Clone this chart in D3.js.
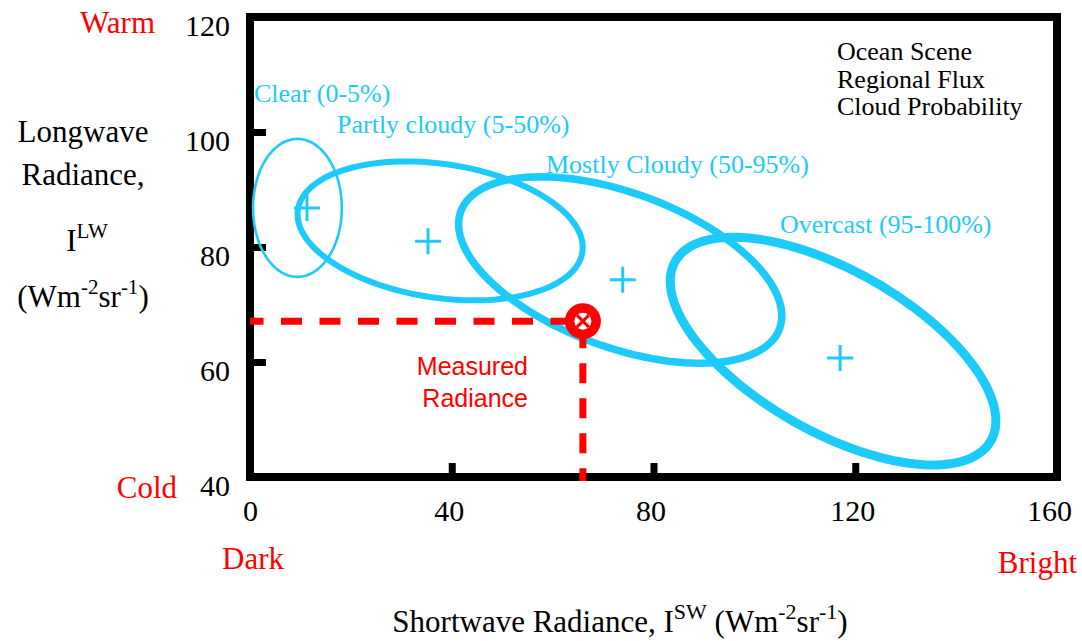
<!DOCTYPE html>
<html>
<head>
<meta charset="utf-8">
<script src="https://cdn.jsdelivr.net/npm/d3@7"></script>
<style>
body{margin:0;background:#fff;}
</style>
</head>
<body>
<svg></svg>
<script>
// cloud classes
var classNames = ["Clear (0-5%)","Partly cloudy (5-50%)","Mostly Cloudy (50-95%)","Overcast (95-100%)"];
// centre of each class ellipse (SW, LW)
var centreSW = [9.4, 37.7, 73.4, 115.6];
var centreLW = [86.8, 82.8, 76.0, 61.9];
// the two semi-diameters of each ellipse, in radiance units
var axisASW = [8.8, 28.2, 31.6, 31.3];
var axisALW = [0, -3.7, -10.2, -15.6];
var axisBSW = [0, -2.0, -5.3, -7.9];
var axisBLW = [-12.0, -11.5, -12.6, -12.2];
// class means (the + marks)
var meanSW = [11.3, 35.3, 73.9, 117.0];
var meanLW = [86.8, 81.0, 74.3, 60.7];
// measured radiance
var measuredSW = 66.0;
var measuredLW = 67.1;

var xTicks = [0,40,80,120,160];
var yTicks = [40,60,80,100,120];
var legendLines = ["Ocean Scene","Regional Flux","Cloud Probability"];

graph();

function graph(){
  var width = 1082;
  var height = 641;
  var blue = "#1ccbf9";
  var red = "#ff0000";
  var serif = "'Liberation Serif','Times New Roman',serif";
  var sans = "'Liberation Sans',Arial,sans-serif";
  var margins = {left:250,right:25,top:17,bot:164};

  var svg = d3.select("svg")
              .attr("width",width)
              .attr("height",height);

  var xScale = d3.scaleLinear()
                 .domain([0,160])
                 .range([margins.left,width-margins.right]);
  var yScale = d3.scaleLinear()
                 .domain([40,120])
                 .range([height-margins.bot,margins.top]);

  //axes, ticks point inwards
  var xAxis = d3.axisBottom(xScale).tickValues(xTicks).tickSize(-14).tickSizeOuter(0).tickPadding(23);
  var yAxis = d3.axisLeft(yScale).tickValues(yTicks).tickSize(-16).tickSizeOuter(0).tickPadding(20);

  var gx = svg.append("g")
     .attr("transform","translate(0,"+yScale(40)+")")
     .call(xAxis);
  var gy = svg.append("g")
     .attr("transform","translate("+xScale(0)+",0)")
     .call(yAxis);
  [gx,gy].forEach(function(g){
    g.select(".domain").remove();
    g.selectAll(".tick line").attr("stroke","#000").attr("stroke-width",7);
    g.selectAll(".tick text")
     .attr("fill","#000")
     .style("font-family",serif)
     .style("font-size","30px");
  });
  gx.selectAll(".tick text").attr("dx",function(d){return d==0 ? 0 : (d==160 ? -8 : -3);});
  gy.selectAll(".tick text").attr("dy","0.6em");

  //frame
  svg.append("rect")
     .attr("x",xScale(0))
     .attr("y",yScale(120))
     .attr("width",xScale(160)-xScale(0))
     .attr("height",yScale(40)-yScale(120))
     .attr("fill","none")
     .attr("stroke","#000")
     .attr("stroke-width",8);

  //class ellipses
  var strokeW = [2.6,6,7.5,9];
  var steps = d3.range(0,121).map(function(i){return i/120*2*Math.PI;});
  var line = d3.line()
               .x(function(d){return xScale(d[0]);})
               .y(function(d){return yScale(d[1]);});
  classNames.forEach(function(name,i){
    var pts = steps.map(function(t){
      return [centreSW[i]+Math.cos(t)*axisASW[i]+Math.sin(t)*axisBSW[i],
              centreLW[i]+Math.cos(t)*axisALW[i]+Math.sin(t)*axisBLW[i]];
    });
    svg.append("path")
       .attr("d",line(pts)+"Z")
       .attr("fill","none")
       .attr("stroke",blue)
       .attr("stroke-width",strokeW[i]);
    svg.append("path")
       .attr("transform","translate("+xScale(meanSW[i])+","+yScale(meanLW[i])+")")
       .attr("d","M-13,0H13M0,-13V13")
       .attr("stroke",blue)
       .attr("stroke-width",3);
  });

  //class labels
  var labelPos = [[254,102],[337,133],[546,173],[780,233]];
  classNames.forEach(function(name,i){
    svg.append("text")
       .attr("x",labelPos[i][0])
       .attr("y",labelPos[i][1])
       .attr("fill",blue)
       .style("font-family",serif)
       .style("font-size","26px")
       .text(name);
  });

  //legend
  legendLines.forEach(function(s,i){
    svg.append("text")
       .attr("x",837)
       .attr("y",60+i*27.7)
       .attr("fill","#000")
       .style("font-family",serif)
       .style("font-size","26px")
       .text(s);
  });

  //measured radiance: dashed guides
  svg.append("line")
     .attr("x1",xScale(0)).attr("x2",xScale(measuredSW))
     .attr("y1",yScale(measuredLW)).attr("y2",yScale(measuredLW))
     .attr("stroke",red).attr("stroke-width",7)
     .attr("stroke-dasharray","21,17.5")
     .attr("stroke-dashoffset",7.5);
  svg.append("line")
     .attr("x1",xScale(measuredSW)).attr("x2",xScale(measuredSW))
     .attr("y1",yScale(measuredLW)).attr("y2",yScale(40)+4)
     .attr("stroke",red).attr("stroke-width",7)
     .attr("stroke-dasharray","20,15")
     .attr("stroke-dashoffset",28);

  var mark = svg.append("g")
     .attr("transform","translate("+xScale(measuredSW)+","+yScale(measuredLW)+")");
  mark.append("circle").attr("r",18).attr("fill",red);
  mark.append("circle").attr("r",8.5).attr("fill","#fff");
  mark.append("path").attr("d","M-6,-6L6,6M6,-6L-6,6").attr("stroke",red).attr("stroke-width",3);

  svg.append("text").attr("x",528).attr("y",375).attr("text-anchor","end")
     .attr("fill",red).style("font-family",sans).style("font-size","25px").text("Measured");
  svg.append("text").attr("x",528).attr("y",407).attr("text-anchor","end")
     .attr("fill",red).style("font-family",sans).style("font-size","25px").text("Radiance");

  //corner words
  var corner = [["Warm",155,33,"end"],["Cold",177,498,"end"],["Dark",253,569,"middle"],["Bright",1077,573,"end"]];
  corner.forEach(function(c){
    svg.append("text")
       .attr("x",c[1]).attr("y",c[2])
       .attr("text-anchor",c[3])
       .attr("fill",red)
       .style("font-family",serif)
       .style("font-size","31px")
       .text(c[0]);
  });

  //y title
  var yt = [["Longwave",142],["Radiance,",185]];
  yt.forEach(function(d){
    svg.append("text").attr("x",83).attr("y",d[1]).attr("text-anchor","middle")
       .style("font-family",serif).style("font-size","31px").text(d[0]);
  });
  var t3 = svg.append("text").attr("x",87).attr("y",251).attr("text-anchor","middle")
     .style("font-family",serif).style("font-size","31px");
  t3.append("tspan").text("I");
  t3.append("tspan").attr("dy",-13).style("font-size","21px").text("LW");
  var t4 = svg.append("text").attr("x",83).attr("y",307).attr("text-anchor","middle")
     .style("font-family",serif).style("font-size","31px");
  supText(t4,[["(Wm",0],["-2",1],["sr",0],["-1",1],[")",0]],13,"21px");

  //x title
  var t5 = svg.append("text").attr("x",620).attr("y",632).attr("text-anchor","middle")
     .style("font-family",serif).style("font-size","31px");
  supText(t5,[["Shortwave Radiance, I",0],["SW",1],[" (Wm",0],["-2",1],["sr",0],["-1",1],[")",0]],13,"22px");
}

function supText(t,parts,rise,size){
  var up = false;
  parts.forEach(function(p){
    var s = t.append("tspan").text(p[0]);
    if(p[1] && !up){ s.attr("dy",-rise).style("font-size",size); up = true; }
    else if(p[1]){ s.style("font-size",size); }
    else if(up){ s.attr("dy",rise); up = false; }
  });
}
</script>
</body>
</html>
